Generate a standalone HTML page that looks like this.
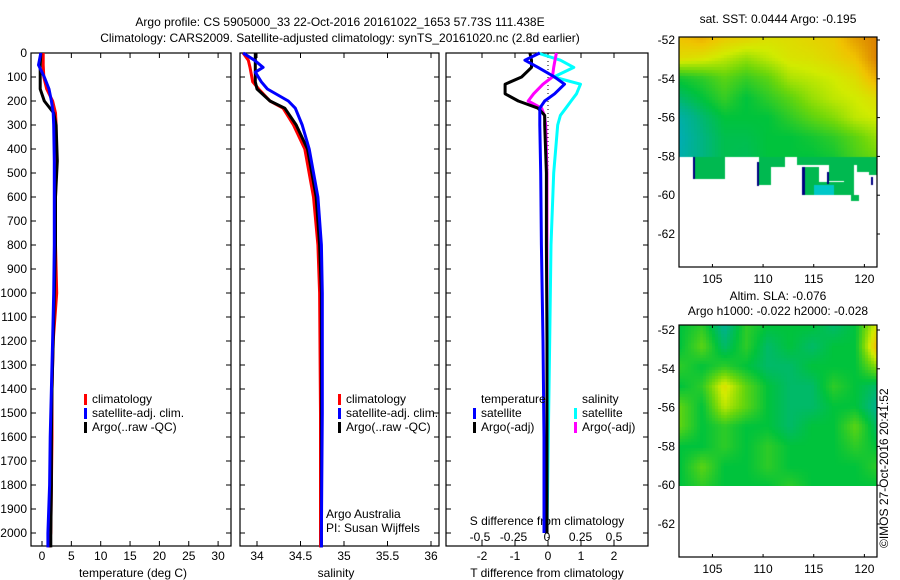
<!DOCTYPE html>
<html><head><meta charset="utf-8">
<style>
body{margin:0;background:#fff;width:900px;height:580px;overflow:hidden;font-family:"Liberation Sans",sans-serif}
svg{position:absolute;left:0;top:0}
text{font-family:"Liberation Sans",sans-serif;font-size:12px;fill:#000}
canvas{position:absolute}
</style></head>
<body>
<canvas id="m1" width="198" height="230" style="left:679px;top:37px"></canvas>
<canvas id="m2" width="198" height="161" style="left:679px;top:325px"></canvas>
<svg id="s" width="900" height="580"></svg>
<script>
// ---- data ----
const tDepth   = [0,50,100,150,200,250,300,450,600,800,1000,1200,1400,1600,1800,2000,2060];
const tClim    = [0.2,0.2,0.3,0.8,1.8,2.3,2.4,2.4,2.3,2.3,2.5,1.9,1.7,1.7,1.6,1.5,1.2];
const tSat     = [-0.2,-0.6,0.4,1.2,1.6,1.9,2.0,2.1,2.1,2.1,2.0,1.8,1.6,1.4,1.3,1.0,1.0];
const tArgo    = [-0.2,-0.3,-0.3,-0.3,0.4,2.0,2.4,2.6,2.3,2.3,2.1,1.9,1.7,1.6,1.6,1.5,1.5];
const sDepth   = [0,30,60,80,120,150,200,230,300,400,600,800,1000,1500,2000,2060];
const sClim    = [33.84,33.9,33.92,33.93,33.95,34.02,34.15,34.3,34.42,34.55,34.65,34.7,34.72,34.73,34.73,34.73];
const sSat     = [33.84,33.97,34.07,33.98,34.05,34.12,34.36,34.44,34.52,34.6,34.7,34.74,34.75,34.75,34.74,34.74];
const sArgo    = [33.98,33.98,33.98,33.98,33.98,34.0,34.15,34.32,34.45,34.58,34.68,34.72,34.74,34.74,34.74,34.74];
const dDepth   = [0,30,60,100,130,170,200,230,260,300,500,800,1200,1600,2000];
const dTsat    = [-0.25,-0.7,-0.3,0.2,0.5,0.2,-0.1,-0.25,-0.25,-0.25,-0.22,-0.2,-0.15,-0.12,-0.12];
const dTargo   = [-0.55,-0.5,-0.5,-0.8,-1.3,-1.3,-0.9,-0.3,-0.1,-0.1,-0.05,-0.05,-0.03,-0.03,-0.03];
const dSsat    = [-0.07,0.1,0.2,0.05,0.25,0.22,0.18,0.14,0.1,0.08,0.05,0.03,0.02,0.01,0.0];
const dSargo   = [0.07,0.06,0.05,0.04,-0.03,-0.1,-0.14,-0.04,-0.02,-0.01,0.0,0.0,0.0,0.0,0.0];
const depthTicks = [0,100,200,300,400,500,600,700,800,900,1000,1100,1200,1300,1400,1500,1600,1700,1800,1900,2000];
const tempTicks = [0,5,10,15,20,25,30];
const salTicks = [34,34.5,35,35.5,36];
const dTTicks = [-2,-1,0,1,2];
const dSTicks = [-0.5,-0.25,0,0.25,0.5];
const lonTicks=[105,110,115,120];
const latTicks=[-52,-54,-56,-58,-60,-62];
const sstGrid=[
[.82,.85,.8,.78,.75,.76,.78,.8,.88,.93],
[.76,.74,.7,.66,.7,.74,.75,.78,.82,.93],
[.52,.55,.6,.56,.6,.68,.7,.72,.76,.86],
[.45,.5,.56,.5,.55,.6,.66,.7,.72,.76],
[.36,.44,.5,.5,.5,.55,.6,.64,.7,.72],
[.34,.42,.48,.48,.5,.5,.52,.55,.6,.66],
[.35,.42,.48,.47,.5,.5,.5,.52,.58,.62]];
const slaGrid=[
[.5,.55,.4,.55,.5,.5,.5,.45,.5,.75],
[.5,.6,.45,.55,.45,.5,.45,.5,.5,.85],
[.55,.5,.55,.5,.45,.45,.5,.5,.5,.65],
[.5,.55,.75,.6,.5,.45,.45,.55,.5,.45],
[.6,.5,.7,.6,.5,.45,.45,.5,.5,.4],
[.6,.5,.55,.5,.5,.45,.5,.5,.6,.45],
[.5,.5,.55,.5,.55,.5,.5,.5,.55,.5],
[.5,.6,.5,.5,.55,.5,.5,.5,.5,.55],
[.5,.55,.5,.5,.5,.55,.5,.5,.5,.5]];

const S=document.getElementById('s');const NS='http://www.w3.org/2000/svg';
function el(t,a,txt){const e=document.createElementNS(NS,t);for(const k in a)e.setAttribute(k,a[k]);if(txt!==undefined)e.textContent=txt;S.appendChild(e);return e;}
const yD=d=>53+d*0.24;
const xT=t=>42+t*5.87;
const xS=s=>257+(s-34)*87;
const xDT=t=>548+t*33;
const xDS=s=>547+s*134;
function stepLine(depths,vals,fx,col,name,w){
  let p='';
  for(let i=0;i<depths.length;i++){const x=fx(vals[i]).toFixed(1),y=yD(depths[i]).toFixed(1);p+=(i?'L':'M')+x+' '+y;}
  const e=el('path',{d:p,fill:'none',stroke:col,'stroke-width':w||3,'stroke-linejoin':'round'});
  
  
}
function box(x,y,w,h,name){const e=el('rect',{x:x,y:y,width:w,height:h,fill:'none',stroke:'#000','stroke-width':1.2});}
function txt(x,y,s,anchor,name,extra){const a={x:x,y:y,'text-anchor':anchor||'start'};Object.assign(a,extra||{});const e=el('text',a,s);return e;}

txt(340,26,'Argo profile: CS 5905000_33 22-Oct-2016 20161022_1653 57.73S 111.438E','middle','title-line-1');
txt(340,42,'Climatology: CARS2009. Satellite-adjusted climatology: synTS_20161020.nc (2.8d earlier)','middle','title-line-2');

box(31,53,200,493,'temperature-panel');
box(240,53,199,493,'salinity-panel');
box(446,53,202,493,'difference-panel');

depthTicks.forEach(d=>{const y=yD(d);
  el('line',{x1:31,y1:y,x2:36,y2:y,stroke:'#000'});el('line',{x1:226,y1:y,x2:231,y2:y,stroke:'#000'});
  el('line',{x1:240,y1:y,x2:245,y2:y,stroke:'#000'});el('line',{x1:434,y1:y,x2:439,y2:y,stroke:'#000'});
  el('line',{x1:446,y1:y,x2:451,y2:y,stroke:'#000'});el('line',{x1:643,y1:y,x2:648,y2:y,stroke:'#000'});
  txt(27,y+4,String(d),'end','depth-tick-label');});
tempTicks.forEach(t=>{const x=xT(t);el('line',{x1:x,y1:53,x2:x,y2:58,stroke:'#000'});el('line',{x1:x,y1:541,x2:x,y2:546,stroke:'#000'});txt(x,560,String(t),'middle','temp-tick-label');});
salTicks.forEach(t=>{const x=xS(t);el('line',{x1:x,y1:53,x2:x,y2:58,stroke:'#000'});el('line',{x1:x,y1:541,x2:x,y2:546,stroke:'#000'});txt(x,560,String(t),'middle','sal-tick-label');});
dTTicks.forEach(t=>{const x=xDT(t);el('line',{x1:x,y1:53,x2:x,y2:58,stroke:'#000'});el('line',{x1:x,y1:541,x2:x,y2:546,stroke:'#000'});txt(x,560,String(t),'middle','dt-tick-label');});
dSTicks.forEach(t=>{txt(xDS(t),541,String(t),'middle','ds-tick-label');});
txt(133,577,'temperature (deg C)','middle','temp-axis-title');
txt(336,577,'salinity','middle','sal-axis-title');
txt(547,577,'T difference from climatology','middle','dt-axis-title');
txt(547,525,'S difference from climatology','middle','ds-axis-title');

stepLine(tDepth,tClim,xT,'#f00','temp-climatology');
stepLine(tDepth,tArgo,xT,'#000','temp-argo');
stepLine(tDepth,tSat,xT,'#00f','temp-satellite');
stepLine(sDepth,sClim,xS,'#f00','sal-climatology');
stepLine(sDepth,sArgo,xS,'#000','sal-argo');
stepLine(sDepth,sSat,xS,'#00f','sal-satellite');
el('line',{x1:xDT(0),y1:53,x2:xDT(0),y2:546,stroke:'#000','stroke-dasharray':'1 3'});
stepLine(dDepth,dSsat,xDS,'#0ff','diff-s-satellite');
stepLine(dDepth,dSargo,xDS,'#f0f','diff-s-argo');
stepLine(dDepth,dTargo,xDT,'#000','diff-t-argo');
stepLine(dDepth,dTsat,xDT,'#00f','diff-t-satellite');

function leg(x,y,col,label,name){const r=el('rect',{x:x,y:y-9,width:3,height:11,fill:col});txt(x+8,y,label,'start',name);}
[[84,'climatology','#f00'],[84,'satellite-adj. clim.','#00f'],[84,'Argo(..raw -QC)','#000']].forEach((a,i)=>leg(a[0],403+i*14,a[2],a[1],'legend-temp-'+i));
[[338,'climatology','#f00'],[338,'satellite-adj. clim.','#00f'],[338,'Argo(..raw -QC)','#000']].forEach((a,i)=>leg(a[0],403+i*14,a[2],a[1],'legend-sal-'+i));
txt(481,403,'temperature','start','legend-temp-heading');
txt(582,403,'salinity','start','legend-sal-heading');
leg(473,417,'#00f','satellite','legend-dt-sat');leg(473,431,'#000','Argo(-adj)','legend-dt-argo');
leg(574,417,'#0ff','satellite','legend-ds-sat');leg(574,431,'#f0f','Argo(-adj)','legend-ds-argo');
txt(326,518,'Argo Australia','start','credit-argo');
txt(326,532,'PI: Susan Wijffels','start','credit-pi');

const lonX=lon=>679+(lon-101.7)*10.13;
function mapAxes(top,h,name,latY){
  box(679,top,198,h,name);
  lonTicks.forEach(l=>{const x=lonX(l);el('line',{x1:x,y1:top,x2:x,y2:top+3,stroke:'#000'});el('line',{x1:x,y1:top+h-3,x2:x,y2:top+h,stroke:'#000'});txt(x,top+h+16,String(l),'middle','lon-tick-label');});
  latTicks.forEach(l=>{const y=latY(l);el('line',{x1:877,y1:y,x2:880,y2:y,stroke:'#000'});txt(675,y+4,String(l),'end','lat-tick-label');});
}
const lat1=l=>40+(-52-l)*19.4, lat2=l=>330+(-52-l)*19.4;
mapAxes(37,230,'sst-map-frame',lat1);
mapAxes(325,232,'sla-map-frame',lat2);
txt(778,23,'sat. SST: 0.0444  Argo: -0.195','middle','sst-map-title');
txt(778,300,'Altim. SLA: -0.076','middle','sla-map-title-1');
txt(778,315,'Argo h1000: -0.022 h2000: -0.028','middle','sla-map-title-2');
txt(0,0,'©IMOS 27-Oct-2016 20:41:52','start','timestamp',{transform:'translate(888,548) rotate(-90)'});

function cmap(v){const stops=[[0.3,[0,170,200]],[0.42,[0,180,130]],[0.5,[0,195,60]],[0.62,[110,215,10]],[0.72,[210,235,0]],[0.82,[240,195,0]],[0.95,[215,115,0]]];
  if(v<=stops[0][0])return stops[0][1];for(let i=1;i<stops.length;i++){if(v<=stops[i][0]){const a=stops[i-1],b=stops[i],f=(v-a[0])/(b[0]-a[0]);return a[1].map((c,k)=>Math.round(c+(b[1][k]-c)*f));}}return stops[stops.length-1][1];}
function drawGrid(id,grid,h){const c=document.getElementById(id).getContext('2d');const R=grid.length,C=grid[0].length;
  for(let y=0;y<h;y+=3)for(let x=0;x<198;x+=3){
    const gx=x/197*(C-1),gy=y/(h-1)*(R-1);const i=Math.min(Math.floor(gx),C-2),j=Math.min(Math.floor(gy),R-2);const fx=gx-i,fy=gy-j;
    const v=grid[j][i]*(1-fx)*(1-fy)+grid[j][i+1]*fx*(1-fy)+grid[j+1][i]*(1-fx)*fy+grid[j+1][i+1]*fx*fy;
    const col=cmap(v);c.fillStyle='rgb('+col+')';c.fillRect(x,y,3,3);}
  return c;}
const c1=drawGrid('m1',sstGrid,120);
c1.fillStyle='rgb(0,185,80)';
[[14,120,32,22],[80,120,12,28],[86,120,20,10],[118,120,60,8],[150,120,25,24],[178,120,20,15],[190,128,8,10],[125,130,15,28],[140,145,30,13],[165,140,10,18],[172,158,8,6]].forEach(r=>c1.fillRect(r[0],r[1],r[2],r[3]));
c1.fillStyle='rgb(0,200,200)';c1.fillRect(135,148,20,10);
c1.fillStyle='#000080';[[14,120,2,22],[78,125,2,24],[123,130,3,28],[148,135,2,12],[192,140,2,8]].forEach(r=>c1.fillRect(r[0],r[1],r[2],r[3]));
drawGrid('m2',slaGrid,161);
</script>
</body></html>
